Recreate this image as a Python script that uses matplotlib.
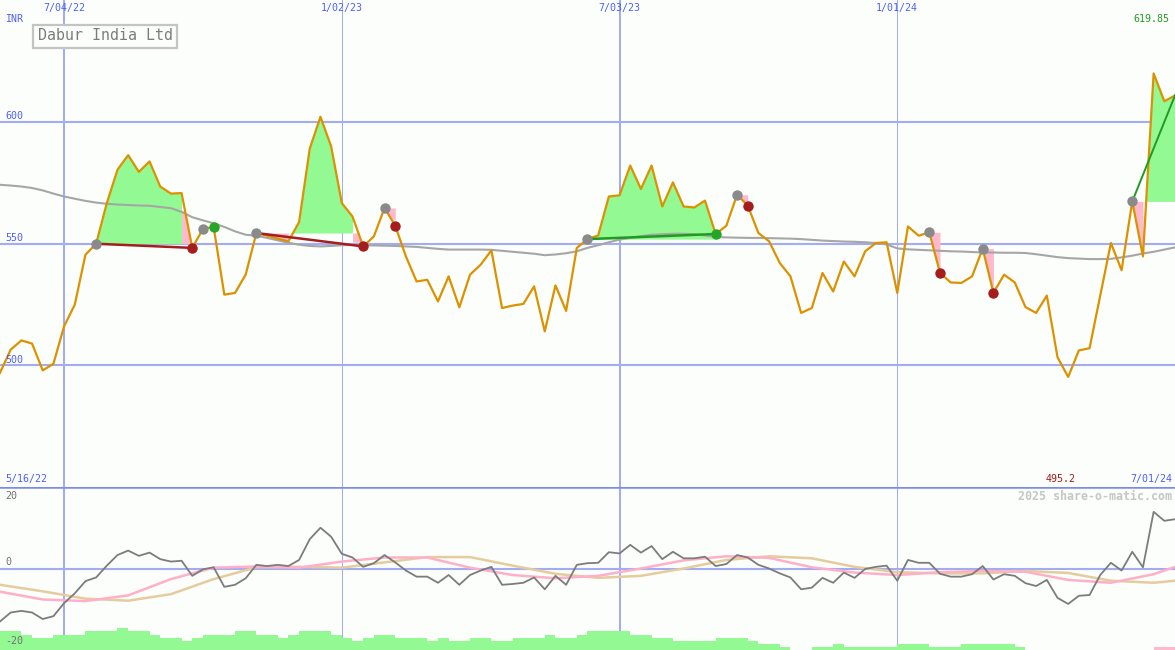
import numpy as np
import pandas as pd
import matplotlib
matplotlib.use("Agg")
from matplotlib import pyplot as plt
import matplotlib.dates as mdates
from matplotlib.patches import Rectangle

W, H = 1175, 650
FONT = "DejaVu Sans Mono"

# weekly closes, Dabur India Ltd (INR)
dates = pd.date_range("2022-05-23", "2024-07-01", freq="7D")
price = [496.9, 506.4, 510.2, 508.9, 497.9, 500.6, 516.0, 524.9, 545.4, 549.9,
         566.6, 580.3, 586.3, 579.4, 583.7, 573.4, 570.5, 570.7, 548.2, 556.0,
         556.8, 529.0, 529.7, 537.2, 554.3, 553.2, 552.0, 550.9, 558.8, 589.0,
         602.0, 589.9, 566.6, 561.1, 548.8, 552.9, 564.6, 557.3, 544.7, 534.4,
         535.1, 526.2, 536.5, 523.8, 537.2, 541.3, 547.2, 523.5, 524.5, 525.2,
         532.4, 513.9, 532.8, 522.3, 548.2, 551.8, 553.3, 569.3, 569.8, 582.0,
         572.4, 582.0, 565.2, 575.1, 565.2, 564.8, 567.6, 553.9, 557.3, 570.0,
         565.6, 554.3, 550.9, 542.0, 536.5, 521.5, 523.5, 537.9, 530.3, 542.6,
         536.5, 546.8, 550.2, 550.5, 529.7, 557.0, 553.2, 554.6, 537.9, 534.0,
         533.8, 536.5, 547.9, 529.7, 537.2, 534.0, 523.9, 521.5, 528.6, 503.3,
         495.2, 506.1, 507.0, 528.6, 550.2, 539.0, 567.3, 544.7, 619.85, 608.4,
         610.8]
# slow moving average (grey line)
ma = [574.1, 573.8, 573.4, 572.8, 571.8, 570.5, 569.3, 568.4, 567.5, 566.8,
      566.3, 566.0, 565.8, 565.6, 565.5, 565.0, 564.5, 563.0, 560.8, 559.5,
      558.3, 556.8, 555.0, 553.6, 553.2, 552.3, 551.3, 550.3, 549.5, 549.0,
      548.8, 549.0, 549.3, 549.4, 549.3, 549.2, 549.1, 549.0, 548.8, 548.6,
      548.2, 547.8, 547.5, 547.5, 547.5, 547.5, 547.4, 547.0, 546.6, 546.2,
      545.8, 545.2, 545.5, 546.0, 546.8, 548.2, 549.3, 550.5, 551.6, 552.3,
      553.0, 553.6, 553.8, 554.0, 554.0, 553.8, 553.3, 552.7, 552.5, 552.4,
      552.3, 552.3, 552.2, 552.1, 552.0, 551.8, 551.5, 551.2, 551.0, 550.8,
      550.7, 550.5, 550.2, 549.6, 548.0, 547.6, 547.4, 547.2, 547.0, 546.8,
      546.7, 546.5, 546.3, 546.3, 546.2, 546.2, 546.1, 545.6, 545.0, 544.4,
      544.0, 543.8, 543.6, 543.6, 543.7, 544.3, 545.0, 545.9, 546.6, 547.5,
      548.4]

# lower panel: % distance from average, and two smoothed versions
osc = [-13.0, -10.8, -10.4, -10.8, -12.4, -11.7, -8.5, -6.1, -3.1, -2.2,
       0.7, 3.3, 4.4, 3.1, 3.9, 2.3, 1.7, 1.9, -1.8, -0.2,
       0.3, -4.5, -4.0, -2.4, 0.9, 0.6, 0.9, 0.6, 2.1, 7.2,
       10.0, 7.8, 3.6, 2.7, 0.4, 1.3, 3.3, 1.5, -0.5, -2.0,
       -2.0, -3.5, -1.6, -4.0, -1.6, -0.5, 0.4, -4.0, -3.8, -3.5,
       -2.2, -5.1, -1.8, -4.0, 0.9, 1.3, 1.4, 4.0, 3.7, 5.8,
       3.9, 5.5, 2.3, 4.1, 2.5, 2.5, 2.9, 0.6, 1.1, 3.3,
       2.7, 0.9, 0.0, -1.2, -2.2, -5.1, -4.7, -2.3, -3.5, -1.0,
       -2.3, -0.1, 0.4, 0.7, -3.0, 2.1, 1.4, 1.4, -1.3, -2.0,
       -2.0, -1.4, 0.6, -2.7, -1.4, -1.8, -3.6, -4.3, -2.8, -7.2,
       -8.7, -6.7, -6.5, -1.6, 1.4, -0.5, 4.1, 0.3, 13.9, 11.7,
       12.1]
smooth_idx = [0, 4, 8, 12, 16, 20, 24, 28, 32, 36, 40, 44, 48, 52, 56, 60, 64,
              68, 72, 76, 80, 84, 88, 92, 96, 100, 104, 108, 110]
pink_sig = [-5.7, -7.6, -8.0, -6.6, -2.6, 0.2, 0.5, 0.2, 1.7, 2.7, 2.7, 0.2,
            -1.6, -2.4, -1.8, 0.0, 2.0, 3.0, 2.6, 0.3, -1.0, -1.6, -0.9, -0.6,
            -0.8, -2.8, -3.5, -1.4, 0.4]
tan_sig = [-4.0, -5.6, -7.4, -7.9, -6.3, -2.6, 0.3, 0.4, 0.2, 1.5, 2.8, 2.8,
           0.7, -1.3, -2.3, -1.8, 0.0, 2.1, 3.0, 2.5, 0.4, -0.9, -1.2, -1.2,
           -0.6, -1.1, -3.0, -3.5, -3.0]
vol = [4.7, 4.7, 3.7, 2.9, 2.9, 3.7, 3.7, 3.7, 4.7, 4.7,
       4.7, 5.5, 4.7, 4.7, 3.7, 2.9, 2.9, 2.2, 2.9, 3.7,
       3.7, 3.7, 4.7, 4.7, 3.7, 3.7, 2.9, 3.7, 4.7, 4.7,
       4.7, 3.7, 2.9, 2.2, 2.9, 3.7, 3.7, 2.9, 2.9, 2.9,
       2.2, 2.9, 2.2, 2.2, 2.9, 2.9, 2.2, 2.2, 2.9, 2.9,
       2.9, 3.7, 2.9, 2.9, 3.7, 4.7, 4.7, 4.7, 4.7, 3.7,
       3.7, 2.9, 2.9, 2.2, 2.2, 2.2, 2.2, 2.9, 2.9, 2.9,
       2.2, 1.5, 1.5, 0.7, 0.0, 0.0, 0.7, 0.7, 1.5, 0.7,
       0.7, 0.7, 0.7, 0.7, 1.5, 1.5, 1.5, 0.7, 0.7, 0.7,
       1.5, 1.5, 1.5, 1.5, 1.5, 0.7, 0.0, 0.0, 0.0, 0.0,
       0.0, 0.0, 0.0, 0.0, 0.0, 0.0, 0.0, 0.0, 0.7, 0.7]
vol_pink = [108, 109]

# trades: entry week, exit week (None = still open)
entries = [9, 19, 24, 36, 55, 69, 87, 92, 106]
exits = [18, 20, 34, 37, 67, 70, 88, 93, None]
# green (gain) areas: from week, to week, entry level
gain_areas = [(9, 17, 549.9), (24, 33, 554.3), (55, 67, 551.8), (106, 110, 567.3)]
# pink (loss) areas: from week, to week, low, high, side of price line
loss_areas = [(17, 18, 549.9, 563.3, "below"), (24, 27, 540.0, 554.3, "above"),
              (33, 34, 550.5, 554.3, "below"), (36, 37, 559.7, 564.6, "above"),
              (69, 70, 567.0, 570.0, "above"), (87, 88, 539.0, 554.6, "above"),
              (92, 93, 530.0, 547.9, "above"), (106, 107, 548.8, 567.3, "above")]

grid_dates = ["2022-07-04", "2023-01-02", "2023-07-03", "2024-01-01"]
grid_labels = ["7/04/22", "1/02/23", "7/03/23", "1/01/24"]
grid_width = [2, 1, 2, 1]

BG = "#fbfefb"
GRID = "#a3acf2"
BLUE = "#5060f0"
GREEN_FILL = "#93f993"
PINK = "#ffb8cc"

price = np.array(price)
idx = np.arange(len(price))
xnum = mdates.date2num(dates.to_pydatetime())


def xat(i):
    return np.interp(i, idx, xnum)


fig = plt.figure(figsize=(W / 100, H / 100), dpi=100, facecolor=BG)
split = 487
ax = fig.add_axes([0, (H - split) / H, 1, split / H], facecolor=BG)
ax2 = fig.add_axes([0, 0, 1, (H - split) / H], facecolor=BG)
for a in (ax, ax2):
    a.set_xlim(xnum[0], xnum[-1])
    a.set_xticks([])
    a.set_yticks([])
    for s in a.spines.values():
        s.set_visible(False)
ax.set_ylim(450, 650)
ax2.set_ylim(-20, 20)

gx = mdates.date2num(pd.to_datetime(grid_dates).to_pydatetime())
for g, w in zip(gx, grid_width):
    ax.axvline(g, color=GRID, lw=w * 0.72, zorder=1)
    ax2.axvline(g, color=GRID, lw=w * 0.72, zorder=1)
for lev in [600, 550, 500]:
    ax.axhline(lev, color=GRID, lw=1.5, zorder=1)
ax2.axhline(0, color=GRID, lw=1.5, zorder=1)
ax2.axhline(20, color="#7a8af0", lw=1.8, zorder=6)

# gain / loss shading
for i0, i1, lev in gain_areas:
    xs = np.linspace(i0, i1, 200)
    ys = np.interp(xs, idx, price)
    ax.fill_between(xat(xs), lev, ys, where=ys > lev, color=GREEN_FILL, lw=0, zorder=2)
for i0, i1, lo, hi, side in loss_areas:
    xs = np.linspace(i0, i1, 60)
    yc = np.clip(np.interp(xs, idx, price), lo, hi)
    if side == "above":
        ax.fill_between(xat(xs), yc, hi, color=PINK, lw=0, zorder=2)
    else:
        ax.fill_between(xat(xs), lo, yc, color=PINK, lw=0, zorder=2)

ax.plot(xnum, ma, color="#a6a6a6", lw=1.5, zorder=3)
ax.plot(xnum, price, color="#dc9200", lw=1.6, zorder=4)

# trade markers (one-week trades need no joining line)
for e, x in zip(entries, exits):
    if x is None:
        ax.plot([xnum[e], xnum[-1]], [price[e], price[-1]], color="#229a22", lw=1.4, zorder=5)
    else:
        won = price[x] > price[e]
        if x - e > 1:
            ax.plot([xnum[e], xnum[x]], [price[e], price[x]],
                    color="#229a22" if won else "#a51d1d", lw=1.8, zorder=5)
        ax.plot(xnum[x], price[x], "o", ms=7.5, color="#26a626" if won else "#a51d1d",
                mec="none", zorder=6)
    ax.plot(xnum[e], price[e], "o", ms=7.5, color="#8a8a8a", mec="none", zorder=6)

# lower panel
bar_colors = [PINK if i in vol_pink else GREEN_FILL for i in range(len(vol))]
ax2.bar(xnum[:-1], vol, width=7, bottom=-20, align="edge", color=bar_colors, lw=0, zorder=2)
sx = xnum[smooth_idx]
ax2.plot(sx, tan_sig, color="#e5cc9c", lw=1.8, zorder=3)
ax2.plot(sx, pink_sig, color="#ffb0c8", lw=1.8, zorder=3)
ax2.plot(xnum, osc, color="#7c7c7c", lw=1.3, zorder=4)


def label(x, y, s, color, ha="left", size=7.2, **kw):
    fig.text(x / W, 1 - y / H, s, color=color, ha=ha, va="center", fontsize=size,
             family=FONT, zorder=10, **kw)


for g, s in zip(gx, grid_labels):
    px = (g - xnum[0]) / (xnum[-1] - xnum[0]) * W
    label(px, 8, s, BLUE, ha="center")
label(5, 19, "INR", BLUE)
label(5, 116, "600", BLUE)
label(5, 238, "550", BLUE)
label(5, 360, "500", BLUE)
label(1169, 19, f"{price.max():.2f}", "#239a23", ha="right")
label(5, 479, "5/16/22", BLUE)
label(1076, 479, f"{price.min():.1f}", "#a01c1c", ha="right")
label(1172, 479, "7/01/24", BLUE, ha="right")
label(1172, 496, "2025 share-o-matic.com", "#c6c6c6", ha="right", size=8.4, weight="bold")
label(5, 496, "20", "#707070")
label(5, 562, "0", "#707070")
label(5, 641, "-20", "#707070")

fig.add_artist(Rectangle((33 / W, 1 - 47.5 / H), 144 / W, 22.5 / H, transform=fig.transFigure,
                         facecolor=BG, edgecolor="#c4c4c4", lw=1.6, zorder=9))
label(105, 36, "Dabur India Ltd", "#7c7c7c", ha="center", size=10.8)

fig.savefig("out.png", dpi=100, facecolor=BG)
